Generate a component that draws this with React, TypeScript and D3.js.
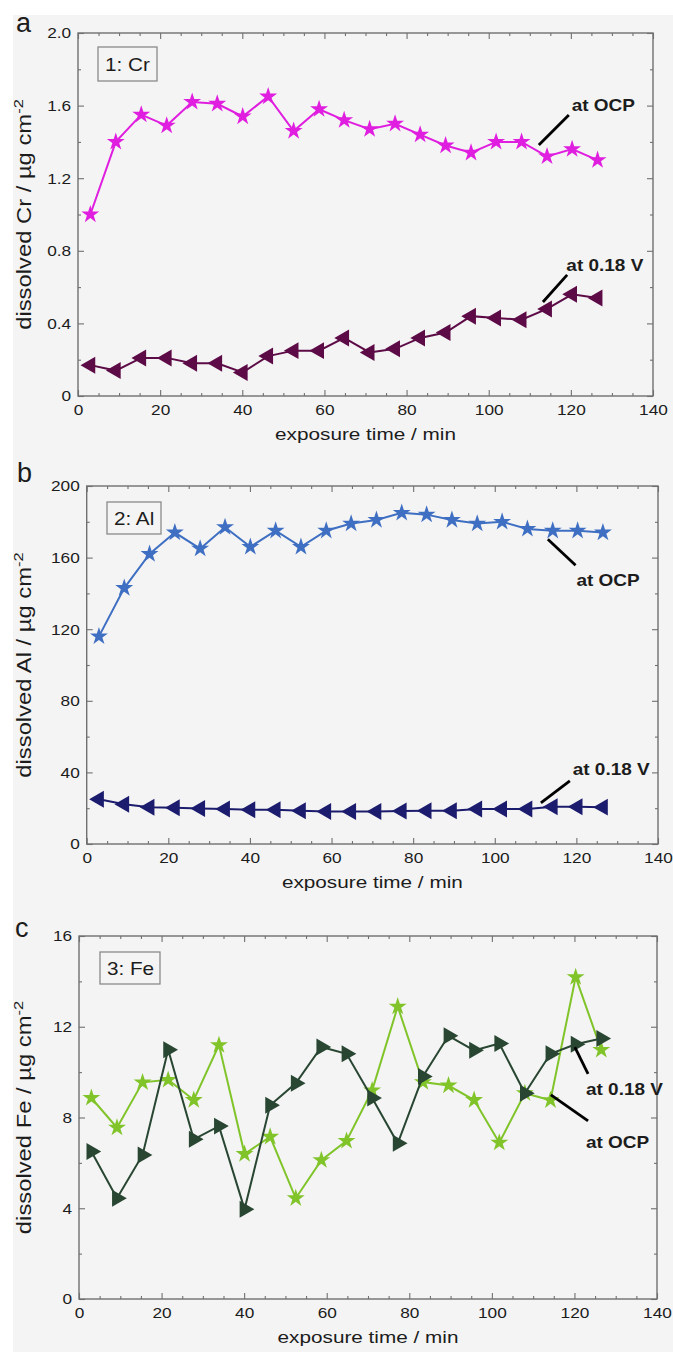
import React, { useEffect, useRef } from 'react';
import * as d3 from 'd3';

// exposure times in min (same sampling for every series)
const times = [3, 9.2, 15.4, 21.6, 27.8, 33.9, 40.1, 46.3, 52.5, 58.7, 64.8, 71, 77.2, 83.3, 89.5, 95.7, 101.8, 108, 114.2, 120.3, 126.5];

// panel a: dissolved Cr
const crOcp = [1.0, 1.40, 1.55, 1.49, 1.62, 1.61, 1.54, 1.65, 1.46, 1.58, 1.52, 1.47, 1.50, 1.44, 1.38, 1.34, 1.40, 1.40, 1.32, 1.36, 1.30];
const crPot = [0.17, 0.14, 0.21, 0.21, 0.18, 0.18, 0.13, 0.22, 0.25, 0.25, 0.32, 0.24, 0.26, 0.32, 0.35, 0.44, 0.43, 0.42, 0.48, 0.56, 0.54];

// panel b: dissolved Al
const alOcp = [116, 143, 162, 174, 165, 177, 166, 175, 166, 175, 179, 181, 185, 184, 181, 179, 180, 176, 175, 175, 174];
const alPot = [25, 22.2, 20.5, 20.2, 19.8, 19.5, 19.2, 19.2, 18.6, 18.2, 18.2, 18.1, 18.5, 18.6, 18.6, 19.6, 19.6, 19.6, 20.8, 20.8, 20.6];

// panel c: dissolved Fe
const feOcp = [8.86, 7.55, 9.55, 9.66, 8.77, 11.19, 6.39, 7.15, 4.44, 6.12, 6.97, 9.19, 12.89, 9.56, 9.41, 8.77, 6.89, 9.07, 8.76, 14.19, 10.98];
const fePot = [6.5, 4.44, 6.35, 10.99, 7.04, 7.62, 3.96, 8.54, 9.51, 11.11, 10.81, 8.86, 6.86, 9.81, 11.6, 10.96, 11.26, 9.07, 10.81, 11.23, 11.48];

const xTicks = [0, 20, 40, 60, 80, 100, 120, 140];
const crTicks = [0, 0.4, 0.8, 1.2, 1.6, 2.0];
const alTicks = [0, 40, 80, 120, 160, 200];
const feTicks = [0, 4, 8, 12, 16];

const BG = '#f4f4f4';
const AXIS = '#707070';
const INK = '#1c1c1c';
const FONT = '"Liberation Sans", Arial, Helvetica, sans-serif';

// the figure's lettering runs wider than Arial, stretch it a bit
function wideText(parent: any, x: number, y: number, str: string, size: number, k: number, anchor = 'start', weight = 'normal') {
  return parent.append('text')
    .attr('transform', `translate(${x},${y}) scale(${k},1)`)
    .attr('font-family', FONT)
    .attr('font-size', size)
    .attr('font-weight', weight)
    .attr('text-anchor', anchor)
    .attr('fill', INK)
    .text(str);
}

function drawPanel(svg: any, p: any) {
  const x = d3.scaleLinear().domain([0, 140]).range([p.left, p.right]);
  const y = d3.scaleLinear().domain([0, p.ticks[p.ticks.length - 1]]).range([p.bottom, p.top]);
  const g = svg.append('g');

  g.append('rect')
    .attr('x', p.left).attr('y', p.top)
    .attr('width', p.right - p.left).attr('height', p.bottom - p.top)
    .attr('fill', BG).attr('stroke', AXIS).attr('stroke-width', 1.4);

  const minorX = d3.range(0, 141, 5).filter(v => v % 20 !== 0);
  const step = p.ticks[1] - p.ticks[0];
  const minorY = p.ticks.slice(0, -1).map((t: number) => t + step / 2);

  const tidy = (sel: any) => {
    sel.select('.domain').remove();
    sel.selectAll('line').attr('stroke', AXIS).attr('stroke-width', 1.1);
    sel.attr('font-family', FONT).attr('font-size', 15);
    sel.selectAll('text').attr('fill', INK).attr('transform', 'scale(1.15,1)');
  };
  const none = () => '';

  // bottom + top
  g.append('g').attr('transform', `translate(0,${p.bottom})`)
    .call(d3.axisBottom(x).tickValues(xTicks).tickSize(-6).tickPadding(8).tickFormat(d3.format('d') as any)).call(tidy);
  g.append('g').attr('transform', `translate(0,${p.bottom})`)
    .call(d3.axisBottom(x).tickValues(minorX).tickSize(-3).tickFormat(none)).call(tidy);
  g.append('g').attr('transform', `translate(0,${p.top})`)
    .call(d3.axisTop(x).tickValues(xTicks).tickSize(-6).tickFormat(none)).call(tidy);
  g.append('g').attr('transform', `translate(0,${p.top})`)
    .call(d3.axisTop(x).tickValues(minorX).tickSize(-3).tickFormat(none)).call(tidy);
  // left + right
  g.append('g').attr('transform', `translate(${p.left},0)`)
    .call(d3.axisLeft(y).tickValues(p.ticks).tickSize(-6).tickPadding(6).tickFormat(p.fmt)).call(tidy);
  g.append('g').attr('transform', `translate(${p.left},0)`)
    .call(d3.axisLeft(y).tickValues(minorY).tickSize(-3).tickFormat(none)).call(tidy);
  g.append('g').attr('transform', `translate(${p.right},0)`)
    .call(d3.axisRight(y).tickValues(p.ticks).tickSize(-6).tickFormat(none)).call(tidy);
  g.append('g').attr('transform', `translate(${p.right},0)`)
    .call(d3.axisRight(y).tickValues(minorY).tickSize(-3).tickFormat(none)).call(tidy);

  // series
  p.series.forEach((s: any) => {
    const line = d3.line<number>().x((_, i) => x(times[i])).y(d => y(d));
    g.append('path').datum(s.values)
      .attr('d', line).attr('fill', 'none')
      .attr('stroke', s.color).attr('stroke-width', 2);
    const sym = d3.symbol(s.marker === 'star' ? d3.symbolStar : d3.symbolTriangle, s.marker === 'star' ? 100 : 125);
    g.selectAll(null).data(s.values).join('path')
      .attr('transform', (d: number, i: number) => `translate(${x(times[i])},${y(d)}) rotate(${s.rotate})`)
      .attr('d', sym()).attr('fill', s.color);
  });

  // leader lines + labels
  p.notes.forEach((n: any) => {
    g.append('line')
      .attr('x1', x(n.from[0])).attr('y1', y(n.from[1]))
      .attr('x2', x(n.to[0])).attr('y2', y(n.to[1]))
      .attr('stroke', '#000').attr('stroke-width', 2.8);
    wideText(g, x(n.at[0]), y(n.at[1]), n.label, 16.5, 1.15, 'start', 'bold');
  });

  // element box
  g.append('rect')
    .attr('x', p.box[0]).attr('y', p.box[1]).attr('width', p.box[2]).attr('height', p.box[3])
    .attr('fill', BG).attr('stroke', '#8a8a8a').attr('stroke-width', 1.3);
  wideText(g, p.box[0] + 7, p.box[1] + p.box[3] / 2 + 6.5, p.tag, 18, 1.15);

  // panel letter
  svg.append('text').attr('x', p.letter[0]).attr('y', p.letter[1])
    .attr('font-family', FONT).attr('font-size', 27).attr('fill', INK).text(p.name);

  // axis titles
  wideText(g, (p.left + p.right) / 2, p.bottom + 44, 'exposure time / min', 17, 1.22, 'middle');
  const yl = g.append('text')
    .attr('transform', `translate(31,${(p.top + p.bottom) / 2}) rotate(-90) scale(1.22,1)`)
    .attr('font-family', FONT).attr('font-size', 19.5).attr('fill', INK)
    .attr('text-anchor', 'middle');
  yl.append('tspan').text(`dissolved ${p.element} / \u00b5g cm`);
  yl.append('tspan').attr('dy', -8).attr('font-size', 13.5).text('-2');
}

export default function App() {
  const ref = useRef<SVGSVGElement>(null);

  useEffect(() => {
    if (!ref.current) return;
    const svg = d3.select(ref.current);
    svg.selectAll('*').remove();

    svg.append('rect').attr('x', 0).attr('y', 0).attr('width', 673).attr('height', 1352).attr('fill', '#fff');
    svg.append('rect').attr('x', 13).attr('y', 15).attr('width', 660).attr('height', 1337).attr('fill', BG);

    const panels = [
      {
        name: 'a', letter: [16, 32], element: 'Cr', tag: '1: Cr', box: [98, 47, 59, 34],
        left: 78, right: 653, top: 33, bottom: 396,
        ticks: crTicks, fmt: (d: number) => (d === 0 ? '0' : d3.format('.1f')(d)),
        series: [
          { values: crOcp, color: '#e01ee0', marker: 'star', rotate: 0 },
          { values: crPot, color: '#5c0b47', marker: 'tri', rotate: -90 },
        ],
        notes: [
          { label: 'at OCP', from: [112.2, 1.383], to: [119.5, 1.548], at: [120.2, 1.57] },
          { label: 'at 0.18 V', from: [113.2, 0.518], to: [119.1, 0.667], at: [118.9, 0.69] },
        ],
      },
      {
        name: 'b', letter: [17, 482], element: 'Al', tag: '2: Al', box: [107, 502, 54, 32],
        left: 86.7, right: 658, top: 486, bottom: 844,
        ticks: alTicks, fmt: d3.format('d'),
        series: [
          { values: alOcp, color: '#3f6fc2', marker: 'star', rotate: 0 },
          { values: alPot, color: '#1c1c6e', marker: 'tri', rotate: -90 },
        ],
        notes: [
          { label: 'at OCP', from: [113, 170.3], to: [119.8, 155.7], at: [120, 144] },
          { label: 'at 0.18 V', from: [111.3, 23], to: [118.4, 35.3], at: [119.1, 38.5] },
        ],
      },
      {
        name: 'c', letter: [15, 937], element: 'Fe', tag: '3: Fe', box: [100, 952, 60, 32],
        left: 79, right: 657, top: 936, bottom: 1299,
        ticks: feTicks, fmt: d3.format('d'),
        series: [
          { values: feOcp, color: '#80c42a', marker: 'star', rotate: 0 },
          { values: fePot, color: '#284632', marker: 'tri', rotate: 90 },
        ],
        notes: [
          { label: 'at 0.18 V', from: [120.1, 11.1], to: [123.3, 9.92], at: [122.8, 9.0] },
          { label: 'at OCP', from: [114.3, 9.0], to: [123.3, 7.85], at: [122.8, 6.65] },
        ],
      },
    ];

    panels.forEach(p => drawPanel(svg, p));
  }, []);

  return <svg ref={ref} width={673} height={1352} style={{ position: 'absolute', left: 0, top: 0 }} />;
}
